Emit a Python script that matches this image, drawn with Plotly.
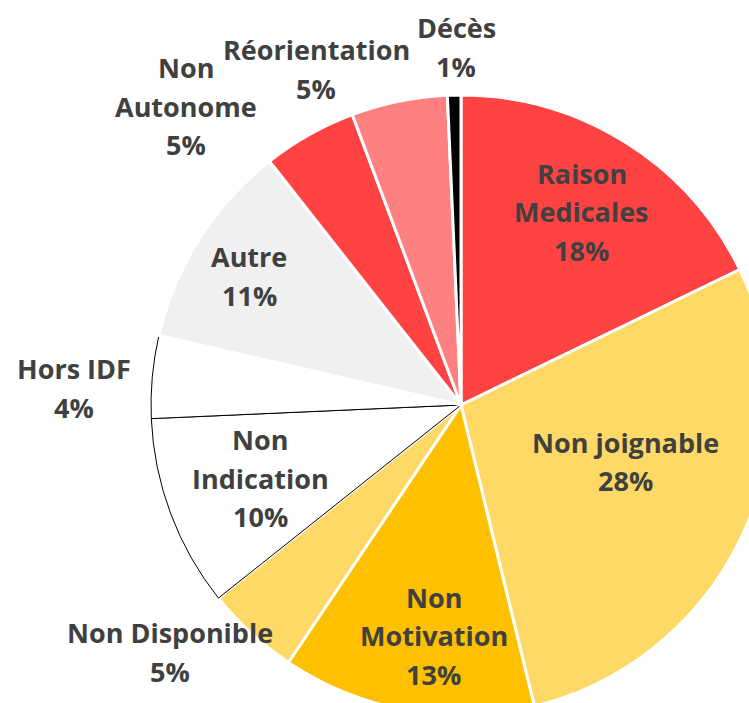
import math
import plotly.graph_objects as go

# ---- data ----
labels = ["Raison Medicales", "Non joignable", "Non Motivation", "Non Disponible",
          "Non Indication", "Hors IDF", "Autre", "Non Autonome", "Réorientation", "Décès"]
values = [17.8, 28.4, 13.2, 4.9, 10.0, 4.3, 10.8, 4.9, 5.0, 0.7]
label_lines = [["Raison", "Medicales"], ["Non joignable"], ["Non", "Motivation"],
               ["Non Disponible"], ["Non", "Indication"], ["Hors IDF"], ["Autre"],
               ["Non", "Autonome"], ["Réorientation"], ["Décès"]]

# ---- style ----
colors = ["#FF4343", "#FFD966", "#FFC000", "#FFD966", "#FFFFFF",
          "#FFFFFF", "#F0F0F0", "#FF4343", "#FF8080", "#000000"]
line_colors = ["white", "white", "white", "white", "black",
               "black", "white", "white", "white", "white"]
line_widths = [3, 3, 3, 3, 1, 1, 3, 3, 3, 3]
# label placement: radius fraction and angular nudge (deg)
lab_r = [0.735, 0.56, 0.75, 1.23, 0.69, 1.25, 0.80, 1.31, 1.18, 1.155]
lab_da = [0, -6.2, -3.4, 7, 0.5, -2.7, -1, -13.3, -11.8, 0.5]

W, H = 790, 720
CX, CY, R = 461, 405, 310
TXT = "#404040"
FONT = "Open Sans"
FS = 27
LH = 38.5

fig = go.Figure(go.Pie(
    labels=labels, values=values, sort=False, direction="clockwise", rotation=0,
    textinfo="none", hoverinfo="label+percent",
    marker=dict(colors=colors, line=dict(color=line_colors, width=line_widths)),
    domain=dict(x=[(CX - R) / W, (CX + R) / W], y=[(H - CY - R) / H, (H - CY + R) / H]),
    showlegend=False,
))

total = sum(values)
cum = 0
annotations = []
for i, v in enumerate(values):
    mid = (cum + v / 2) / total * 360 + lab_da[i]
    cum += v
    a = math.radians(mid)
    px = CX + lab_r[i] * R * math.sin(a)
    py = CY - lab_r[i] * R * math.cos(a)
    pct = round(v / total * 100)
    lines = label_lines[i] + [f"{pct}%"]
    n = len(lines)
    for j, t in enumerate(lines):
        annotations.append(dict(
            x=px / W, y=1 - py / H, xref="paper", yref="paper",
            text=f"<b>{t}</b>", showarrow=False,
            xanchor="center", yanchor="middle",
            yshift=-(j - (n - 1) / 2) * LH,
            font=dict(family=FONT, size=FS, color=TXT),
        ))

fig.update_layout(
    width=W, height=H, margin=dict(l=0, r=0, t=0, b=0),
    paper_bgcolor="white", plot_bgcolor="white",
    annotations=annotations,
)

fig.write_html(
    "out.html",
    config={"displayModeBar": False},
    post_script="document.body.style.margin='0';document.body.style.overflow='hidden';"
                "document.documentElement.style.overflow='hidden';",
)
